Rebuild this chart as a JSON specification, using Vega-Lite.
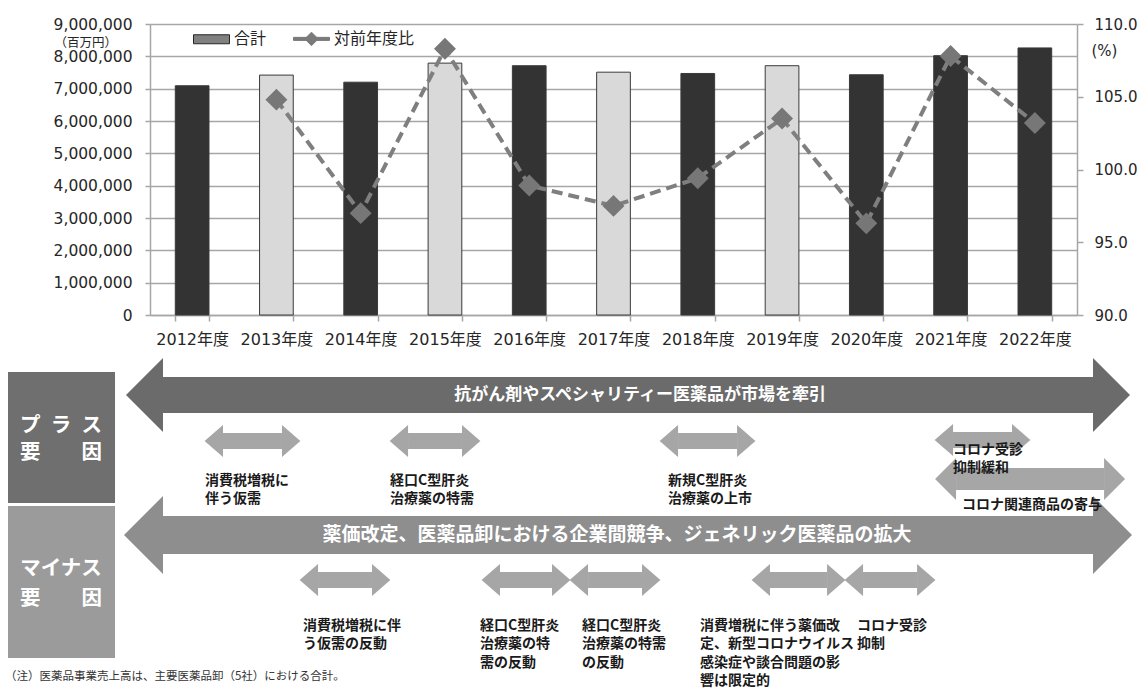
{
  "$schema": "https://vega.github.io/schema/vega-lite/v6.json",
  "width": 927,
  "height": 291,
  "autosize": {"type": "none"},
  "padding": {"left": 150, "top": 24, "right": 68, "bottom": 374},
  "background": "white",
  "config": {
    "view": {"stroke": null},
    "font": "DejaVu Sans, Noto Sans CJK JP",
    "axis": {"labelColor": "#262626", "titleColor": "#262626", "domainColor": "#a6a6a6", "tickColor": "#a6a6a6", "gridColor": "#a6a6a6", "domainWidth": 1.5, "tickWidth": 1.5, "gridWidth": 1.3}
  },
  "datasets": {
    "sales": [
      {"年度": "2012年度", "合計": 7090000, "対前年度比": null, "区分": "1"},
      {"年度": "2013年度", "合計": 7420000, "対前年度比": 104.8, "区分": "2"},
      {"年度": "2014年度", "合計": 7200000, "対前年度比": 97.0, "区分": "1"},
      {"年度": "2015年度", "合計": 7790000, "対前年度比": 108.3, "区分": "2"},
      {"年度": "2016年度", "合計": 7710000, "対前年度比": 98.9, "区分": "1"},
      {"年度": "2017年度", "合計": 7510000, "対前年度比": 97.5, "区分": "2"},
      {"年度": "2018年度", "合計": 7470000, "対前年度比": 99.4, "区分": "1"},
      {"年度": "2019年度", "合計": 7710000, "対前年度比": 103.5, "区分": "2"},
      {"年度": "2020年度", "合計": 7430000, "対前年度比": 96.3, "区分": "1"},
      {"年度": "2021年度", "合計": 8020000, "対前年度比": 107.8, "区分": "1"},
      {"年度": "2022年度", "合計": 8260000, "対前年度比": 103.2, "区分": "1"}
    ],
    "boxes": [
      {"要因": "プラス要因", "年度": 2009.815, "年度2": 2011.085, "段": 2.28, "段2": 7.52},
      {"要因": "マイナス要因", "年度": 2009.815, "年度2": 2011.085, "段": 7.64, "段2": 13.72}
    ],
    "arrows": [
      {"内容": "抗がん剤やスペシャリティー医薬品が市場を牽引", "種別": "プラス主", "年度": 2011.654, "年度2": 2022.69, "段": 3.2},
      {"内容": "薬価改定、医薬品卸における企業間競争、ジェネリック医薬品の拡大", "種別": "マイナス主", "年度": 2011.654, "年度2": 2022.69, "段": 8.8},
      {"内容": "消費税増税に伴う仮需", "種別": "個別", "年度": 2012.366, "年度2": 2013.066, "段": 5.04},
      {"内容": "経口C型肝炎治療薬の特需", "種別": "個別", "年度": 2014.562, "年度2": 2015.202, "段": 5.04},
      {"内容": "新規C型肝炎治療薬の上市", "種別": "個別", "年度": 2017.766, "年度2": 2018.466, "段": 5.04},
      {"内容": "コロナ受診抑制緩和", "種別": "個別", "年度": 2021.029, "年度2": 2021.729, "段": 5.0},
      {"内容": "コロナ関連商品の寄与", "種別": "中", "年度": 2021.065, "年度2": 2022.821, "段": 6.56},
      {"内容": "消費税増税に伴う仮需の反動", "種別": "個別", "年度": 2013.494, "年度2": 2014.134, "段": 10.6},
      {"内容": "経口C型肝炎治療薬の特需の反動", "種別": "個別", "年度": 2015.653, "年度2": 2016.27, "段": 10.6},
      {"内容": "経口C型肝炎治療薬の特需の反動(2)", "種別": "個別", "年度": 2016.698, "年度2": 2017.338, "段": 10.6},
      {"内容": "消費増税に伴う薬価改定", "種別": "個別", "年度": 2018.857, "年度2": 2019.534, "段": 10.6},
      {"内容": "コロナ受診抑制", "種別": "個別", "年度": 2019.961, "年度2": 2020.602, "段": 10.6}
    ],
    "texts": [
      {"文": "プ\u2002ラ\u2002ス", "種類": "見出し", "年度": 2010.444, "段": 4.44},
      {"文": "要　　因", "種類": "見出し", "年度": 2010.444, "段": 5.5},
      {"文": "マイナス", "種類": "見出し", "年度": 2010.444, "段": 10.16},
      {"文": "要　　因", "種類": "見出し", "年度": 2010.444, "段": 11.36},
      {"文": "抗がん剤やスペシャリティー医薬品が市場を牽引", "種類": "主プラス", "年度": 2017.315, "段": 3.2},
      {"文": "薬価改定、医薬品卸における企業間競争、ジェネリック医薬品の拡大", "種類": "主マイナス", "年度": 2017.042, "段": 8.8},
      {"文": "消費税増税に\n伴う仮需", "種類": "注記", "年度": 2012.153, "段": 6.36},
      {"文": "経口C型肝炎\n治療薬の特需", "種類": "注記", "年度": 2014.348, "段": 6.36},
      {"文": "新規C型肝炎\n治療薬の上市", "種類": "注記", "年度": 2017.647, "段": 6.36},
      {"文": "コロナ受診\n抑制緩和", "種類": "注記", "年度": 2021.029, "段": 5.12},
      {"文": "コロナ関連商品の寄与", "種類": "注記", "年度": 2021.136, "段": 7.32},
      {"文": "消費税増税に伴\nう仮需の反動", "種類": "注記", "年度": 2013.316, "段": 12.16},
      {"文": "経口C型肝炎\n治療薬の特\n需の反動", "種類": "注記", "年度": 2015.416, "段": 12.16},
      {"文": "経口C型肝炎\n治療薬の特需\nの反動", "種類": "注記", "年度": 2016.626, "段": 12.16},
      {"文": "消費増税に伴う薬価改\n定、新型コロナウイルス\n感染症や談合問題の影\n響は限定的", "種類": "注記", "年度": 2018.027, "段": 12.16},
      {"文": "コロナ受診\n抑制", "種類": "注記", "年度": 2019.89, "段": 12.16},
      {"文": "（注）医薬品事業売上高は、主要医薬品卸（5社）における合計。", "種類": "脚注", "年度": 2009.779, "段": 14.48}
    ],
    "legend": [
      {"系列": "合計", "年度": 2000, "段": -60},
      {"系列": "対前年度比", "年度": 2000, "段": -60}
    ]
  },
  "layer": [
    {
      "data": {"name": "sales"},
      "encoding": {
        "x": {
          "field": "年度", "type": "ordinal", "sort": null,
          "scale": {"paddingInner": 0.6, "paddingOuter": 0.3},
          "axis": {"title": null, "labelAngle": 0, "tickBand": "extent", "tickSize": 6, "labelFontSize": 16, "labelPadding": 10, "grid": false}
        }
      },
      "layer": [
        {
          "mark": {"type": "bar", "stroke": "#3a3a3a", "strokeWidth": 1},
          "encoding": {
            "y": {
              "field": "合計", "type": "quantitative",
              "scale": {"domain": [0, 9000000], "nice": false},
              "axis": {"orient": "left", "values": [0, 1000000, 2000000, 3000000, 4000000, 5000000, 6000000, 7000000, 8000000, 9000000], "format": ",d", "grid": true, "tickSize": 5, "labelFontSize": 15.5, "labelPadding": 13, "title": "（百万円）", "titleAngle": 0, "titleAlign": "left", "titleBaseline": "middle", "titleX": -96, "titleY": 18, "titleFont": "Noto Sans CJK JP", "titleFontSize": 12.5, "titleFontWeight": "normal"}
            },
            "fill": {"condition": {"test": "datum['区分'] === '2'", "value": "#d9d9d9"}, "value": "#333333"}
          }
        },
        {
          "mark": {"type": "line", "strokeDash": [11, 6], "strokeWidth": 4, "color": "#7f7f7f", "point": {"shape": "diamond", "size": 480, "filled": true, "color": "#777777", "opacity": 1}},
          "encoding": {
            "y": {
              "field": "対前年度比", "type": "quantitative",
              "scale": {"domain": [90, 110], "nice": false, "zero": false},
              "axis": {"orient": "right", "values": [90, 95, 100, 105, 110], "format": ".1f", "grid": false, "tickSize": 6, "labelPadding": 11, "labelFontSize": 15, "title": "(%)", "titleAngle": 0, "titleAlign": "left", "titleBaseline": "middle", "titleX": 14, "titleY": 26, "titleFontSize": 15, "titleFontWeight": "normal"}
            }
          }
        }
      ],
      "resolve": {"scale": {"y": "independent"}}
    },
    {
      "encoding": {
        "x": {"field": "年度", "type": "quantitative", "scale": {"domain": [2011.5, 2022.5], "nice": false, "zero": false, "padding": 0}, "axis": null},
        "y": {"field": "段", "type": "quantitative", "scale": {"domain": [-11.64, 0], "nice": false, "zero": false, "reverse": true, "padding": 0}, "axis": null}
      },
      "layer": [
        {
          "data": {"name": "boxes"},
          "mark": {"type": "rect"},
          "encoding": {
            "x2": {"field": "年度2"},
            "y2": {"field": "段2"},
            "fill": {"condition": {"test": "datum['要因'] === 'マイナス要因'", "value": "#9b9b9b"}, "value": "#6f6f6f"}
          }
        },
        {
          "data": {"name": "arrows"},
          "transform": [{"filter": "datum['種別'] === 'プラス主'"}],
          "layer": [
            {"mark": {"type": "bar", "orient": "horizontal", "size": 36, "color": "#6b6b6b"}, "encoding": {"x2": {"field": "年度2"}}},
            {"mark": {"type": "point", "shape": "M0,-1L-1,0L0,1Z", "size": 5476, "filled": true, "color": "#6b6b6b", "opacity": 1}},
            {"mark": {"type": "point", "shape": "M0,-1L1,0L0,1Z", "size": 5476, "filled": true, "color": "#6b6b6b", "opacity": 1}, "encoding": {"x": {"field": "年度2", "type": "quantitative", "scale": {"domain": [2011.5, 2022.5], "nice": false, "zero": false, "padding": 0}, "axis": null}}}
          ]
        },
        {
          "data": {"name": "arrows"},
          "transform": [{"filter": "datum['種別'] === 'マイナス主'"}],
          "layer": [
            {"mark": {"type": "bar", "orient": "horizontal", "size": 38, "color": "#8e8e8e"}, "encoding": {"x2": {"field": "年度2"}}},
            {"mark": {"type": "point", "shape": "M0,-1L-1,0L0,1Z", "size": 6084, "filled": true, "color": "#8e8e8e", "opacity": 1}},
            {"mark": {"type": "point", "shape": "M0,-1L1,0L0,1Z", "size": 6084, "filled": true, "color": "#8e8e8e", "opacity": 1}, "encoding": {"x": {"field": "年度2", "type": "quantitative", "scale": {"domain": [2011.5, 2022.5], "nice": false, "zero": false, "padding": 0}, "axis": null}}}
          ]
        },
        {
          "data": {"name": "arrows"},
          "transform": [{"filter": "datum['種別'] === '個別'"}],
          "layer": [
            {"mark": {"type": "bar", "orient": "horizontal", "size": 16, "color": "#a6a6a6"}, "encoding": {"x2": {"field": "年度2"}}},
            {"mark": {"type": "point", "shape": "M0,-1L-1.15,0L0,1Z", "size": 1024, "filled": true, "color": "#a6a6a6", "opacity": 1}},
            {"mark": {"type": "point", "shape": "M0,-1L1.15,0L0,1Z", "size": 1024, "filled": true, "color": "#a6a6a6", "opacity": 1}, "encoding": {"x": {"field": "年度2", "type": "quantitative", "scale": {"domain": [2011.5, 2022.5], "nice": false, "zero": false, "padding": 0}, "axis": null}}}
          ]
        },
        {
          "data": {"name": "arrows"},
          "transform": [{"filter": "datum['種別'] === '中'"}],
          "layer": [
            {"mark": {"type": "bar", "orient": "horizontal", "size": 22, "color": "#a6a6a6"}, "encoding": {"x2": {"field": "年度2"}}},
            {"mark": {"type": "point", "shape": "M0,-1L-1,0L0,1Z", "size": 1764, "filled": true, "color": "#a6a6a6", "opacity": 1}},
            {"mark": {"type": "point", "shape": "M0,-1L1,0L0,1Z", "size": 1764, "filled": true, "color": "#a6a6a6", "opacity": 1}, "encoding": {"x": {"field": "年度2", "type": "quantitative", "scale": {"domain": [2011.5, 2022.5], "nice": false, "zero": false, "padding": 0}, "axis": null}}}
          ]
        },
        {
          "data": {"name": "texts"},
          "transform": [{"filter": "datum['種類'] === '見出し'"}],
          "mark": {"type": "text", "align": "center", "baseline": "middle", "font": "Noto Sans CJK JP", "fontSize": 20.5, "fontWeight": "bold", "color": "white"},
          "encoding": {"text": {"field": "文"}}
        },
        {
          "data": {"name": "texts"},
          "transform": [{"filter": "datum['種類'] === '主プラス'"}],
          "mark": {"type": "text", "align": "center", "baseline": "middle", "font": "Noto Sans CJK JP", "fontSize": 17, "fontWeight": "bold", "color": "white"},
          "encoding": {"text": {"field": "文"}}
        },
        {
          "data": {"name": "texts"},
          "transform": [{"filter": "datum['種類'] === '主マイナス'"}],
          "mark": {"type": "text", "align": "center", "baseline": "middle", "font": "Noto Sans CJK JP", "fontSize": 19, "fontWeight": "bold", "color": "white"},
          "encoding": {"text": {"field": "文"}}
        },
        {
          "data": {"name": "texts"},
          "transform": [{"filter": "datum['種類'] === '注記'"}],
          "mark": {"type": "text", "align": "left", "baseline": "top", "font": "Noto Sans CJK JP", "fontSize": 14, "fontWeight": "bold", "color": "#1a1a1a", "lineBreak": "\n", "lineHeight": 18.3},
          "encoding": {"text": {"field": "文"}}
        },
        {
          "data": {"name": "texts"},
          "transform": [{"filter": "datum['種類'] === '脚注'"}],
          "mark": {"type": "text", "align": "left", "baseline": "middle", "font": "Noto Sans CJK JP", "fontSize": 11.5, "color": "#333333"},
          "encoding": {"text": {"field": "文"}}
        },
        {
          "data": {"name": "legend"},
          "mark": {"type": "point", "filled": true, "opacity": 1},
          "encoding": {
            "shape": {"field": "系列", "type": "nominal", "scale": {"domain": ["合計", "対前年度比"], "range": ["M-2,-0.5H2V0.5H-2Z", "M-2,-0.17H2V0.17H-2ZM0,-0.75L0.75,0L0,0.75L-0.75,0Z"]}, "legend": {"orient": "none", "legendX": 52, "legendY": 5, "direction": "horizontal", "title": null, "symbolSize": 324, "symbolStrokeWidth": 1, "labelFontSize": 16, "labelFont": "Noto Sans CJK JP", "labelColor": "#262626", "labelOffset": 13, "columnPadding": 24, "padding": 0}},
            "fill": {"field": "系列", "type": "nominal", "scale": {"domain": ["合計", "対前年度比"], "range": ["#808080", "#7a7a7a"]}, "legend": {"orient": "none", "legendX": 52, "legendY": 5, "direction": "horizontal", "title": null, "symbolSize": 324, "symbolStrokeWidth": 1, "labelFontSize": 16, "labelFont": "Noto Sans CJK JP", "labelColor": "#262626", "labelOffset": 13, "columnPadding": 24, "padding": 0}},
            "stroke": {"field": "系列", "type": "nominal", "scale": {"domain": ["合計", "対前年度比"], "range": ["#262626", "#7a7a7a"]}, "legend": {"orient": "none", "legendX": 52, "legendY": 5, "direction": "horizontal", "title": null, "symbolSize": 324, "symbolStrokeWidth": 1, "labelFontSize": 16, "labelFont": "Noto Sans CJK JP", "labelColor": "#262626", "labelOffset": 13, "columnPadding": 24, "padding": 0}}
          }
        }
      ]
    }
  ],
  "resolve": {"scale": {"x": "independent", "y": "independent"}}
}
